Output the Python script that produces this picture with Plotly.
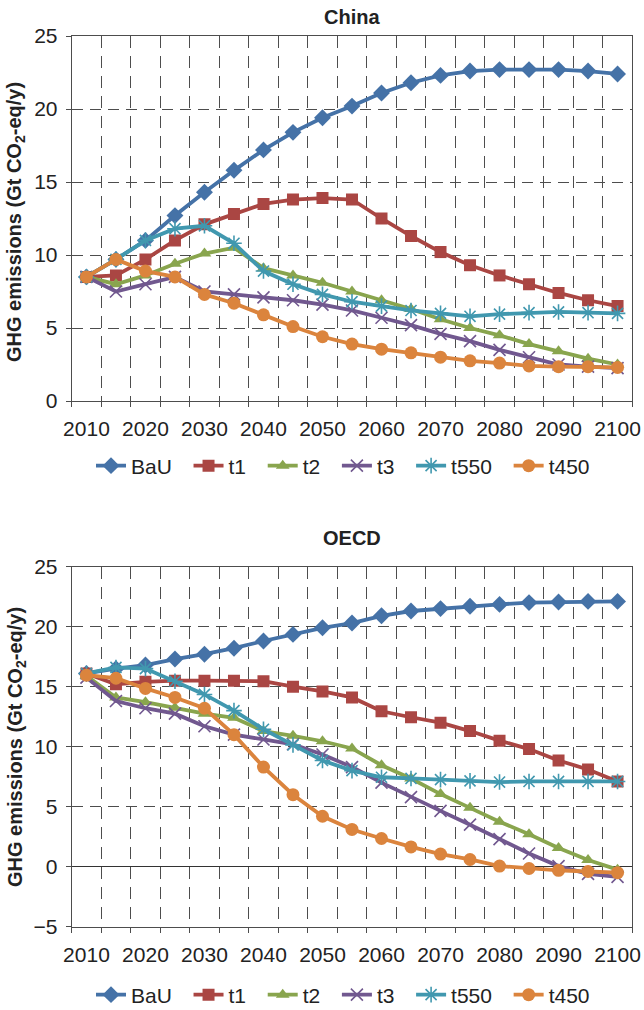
import plotly.graph_objects as go

years = [2010, 2015, 2020, 2025, 2030, 2035, 2040, 2045, 2050, 2055,
         2060, 2065, 2070, 2075, 2080, 2085, 2090, 2095, 2100]
tick_years = [2010, 2020, 2030, 2040, 2050, 2060, 2070, 2080, 2090, 2100]
series_names = ["BaU", "t1", "t2", "t3", "t550", "t450"]

china_bau = [8.5, 9.7, 11.0, 12.7, 14.3, 15.8, 17.2, 18.4, 19.4, 20.2, 21.1, 21.8, 22.3, 22.6, 22.7, 22.7, 22.7, 22.6, 22.4]
china_t1 = [8.5, 8.6, 9.7, 11.0, 12.1, 12.8, 13.5, 13.8, 13.9, 13.8, 12.5, 11.3, 10.2, 9.3, 8.6, 8.0, 7.4, 6.9, 6.5]
china_t2 = [8.5, 8.0, 8.6, 9.4, 10.1, 10.5, 9.1, 8.6, 8.1, 7.5, 6.9, 6.3, 5.6, 5.0, 4.5, 3.9, 3.4, 2.9, 2.5]
china_t3 = [8.5, 7.5, 8.0, 8.5, 7.5, 7.3, 7.1, 6.9, 6.6, 6.2, 5.7, 5.2, 4.6, 4.1, 3.5, 3.0, 2.5, 2.35, 2.25]
china_t550 = [8.5, 9.7, 11.0, 11.8, 12.0, 10.8, 8.9, 8.0, 7.3, 6.8, 6.5, 6.2, 6.0, 5.8, 5.95, 6.05, 6.1, 6.05, 6.0]
china_t450 = [8.5, 9.7, 8.9, 8.5, 7.3, 6.7, 5.9, 5.1, 4.4, 3.9, 3.55, 3.3, 3.0, 2.75, 2.6, 2.4, 2.35, 2.35, 2.3]

oecd_bau = [16.1, 16.5, 16.8, 17.3, 17.7, 18.2, 18.8, 19.35, 19.9, 20.3, 20.9, 21.3, 21.5, 21.7, 21.85, 22.0, 22.05, 22.1, 22.1]
oecd_t1 = [16.1, 15.2, 15.4, 15.5, 15.5, 15.5, 15.45, 15.0, 14.6, 14.1, 12.95, 12.45, 12.0, 11.3, 10.5, 9.8, 8.85, 8.1, 7.1]
oecd_t2 = [15.9, 14.1, 13.7, 13.25, 12.75, 12.4, 11.3, 10.9, 10.45, 9.85, 8.45, 7.35, 6.05, 4.9, 3.75, 2.7, 1.55, 0.55, -0.25]
oecd_t3 = [15.75, 13.8, 13.2, 12.75, 11.7, 11.0, 10.6, 10.2, 9.35, 8.3, 7.0, 5.8, 4.65, 3.5, 2.3, 1.1, 0.05, -0.6, -0.85]
oecd_t550 = [16.1, 16.6, 16.5, 15.45, 14.35, 13.0, 11.45, 10.15, 8.85, 8.0, 7.45, 7.35, 7.25, 7.15, 7.05, 7.1, 7.1, 7.1, 7.1]
oecd_t450 = [15.95, 15.7, 14.85, 14.1, 13.2, 11.0, 8.3, 6.0, 4.2, 3.1, 2.35, 1.65, 1.05, 0.6, 0.05, -0.15, -0.3, -0.4, -0.5]

china = [china_bau, china_t1, china_t2, china_t3, china_t550, china_t450]
oecd = [oecd_bau, oecd_t1, oecd_t2, oecd_t3, oecd_t550, oecd_t450]

colors = ["#4572A7", "#AA4643", "#89A54E", "#71588F", "#4198AF", "#DB843D"]
symbols = ["diamond", "square", "triangle-up", "x-thin", "asterisk-open", "circle"]
sizes = [13, 12, 12, 12, 13, 13]

FONT = "Liberation Sans, Arial, Helvetica, sans-serif"
TXT = "#222222"
GRID = "#4d4d4d"

W, H = 644, 1010
x0, x1 = 71.7 / W, 632.3 / W
top_dom = [1 - 401 / H, 1 - 36 / H]
bot_dom = [1 - 926.7 / H, 1 - 566.6 / H]
PAD = "&nbsp;&nbsp;"

fig = go.Figure()

def add_series(data, xa, ya, legend):
    for i, (name, vals, c, s, sz) in enumerate(zip(series_names, data, colors, symbols, sizes)):
        thin = s in ("x-thin", "asterisk-open")
        label = name + (PAD if i < len(series_names) - 1 else "")
        fig.add_trace(go.Scatter(
            x=years, y=vals, name=label, mode="lines+markers",
            xaxis=xa, yaxis=ya, legend=legend,
            line=dict(color=c, width=3.8),
            marker=dict(symbol=s, size=sz, color=c,
                        line=dict(color=c, width=1.6 if thin else 0)),
        ))

add_series(china, "x", "y", "legend")
add_series(oecd, "x2", "y2", "legend2")

def xaxis_cfg(anchor):
    return dict(
        domain=[x0, x1], anchor=anchor, range=[2007.5, 2102.5], automargin=False,
        tickmode="array", tickvals=tick_years, ticktext=[str(v) for v in tick_years],
        ticks="", showgrid=False, zeroline=False,
        showline=True, linecolor=GRID, linewidth=1, mirror=True,
        tickfont=dict(family=FONT, size=21, color=TXT),
        ticklabelstandoff=9,
        minor=dict(tick0=2007.5, dtick=5, showgrid=True, gridcolor=GRID,
                   griddash="12px,8px", gridwidth=1, ticks="outside",
                   ticklen=5, tickcolor=GRID),
    )

def yaxis_cfg(anchor, dom, rng, zl):
    return dict(
        domain=dom, anchor=anchor, range=rng, dtick=5, tick0=0, automargin=False,
        ticks="outside", ticklen=5, tickcolor=GRID,
        showgrid=True, gridcolor=GRID, griddash="11px,7px", gridwidth=1,
        zeroline=zl, zerolinecolor="#333333", zerolinewidth=1,
        showline=True, linecolor=GRID, linewidth=1, mirror=True,
        tickfont=dict(family=FONT, size=21, color=TXT),
        ticklabelstandoff=4,
    )

legend_common = dict(orientation="h", xanchor="center", yanchor="middle",
                     font=dict(family=FONT, size=21, color=TXT),
                     bgcolor="rgba(0,0,0,0)", tracegroupgap=0)

fig.update_layout(
    width=W, height=H, margin=dict(l=0, r=0, t=0, b=0, autoexpand=False),
    paper_bgcolor="white", plot_bgcolor="white",
    xaxis=xaxis_cfg("y"), yaxis=yaxis_cfg("x", top_dom, [0, 25], False),
    xaxis2=xaxis_cfg("y2"), yaxis2=yaxis_cfg("x2", bot_dom, [-5, 25], True),
    legend=dict(x=343 / W, y=1 - 466 / H, **legend_common),
    legend2=dict(x=343 / W, y=1 - 995 / H, **legend_common),
    showlegend=True,
)

ytitle = "<b>GHG emissions (Gt CO<sub>2</sub>-eq/y)</b>"
annos = [
    dict(text="<b>China</b>", x=352 / W, y=1 - 17 / H),
    dict(text="<b>OECD</b>", x=352 / W, y=1 - 538 / H),
    dict(text=ytitle, x=16 / W, y=1 - 222 / H, textangle=-90),
    dict(text=ytitle, x=16 / W, y=1 - 747 / H, textangle=-90),
]
for a in annos:
    fig.add_annotation(xref="paper", yref="paper", xanchor="center", yanchor="middle",
                       showarrow=False, font=dict(family=FONT, size=20, color=TXT), **a)

fig.write_html("out.html")
